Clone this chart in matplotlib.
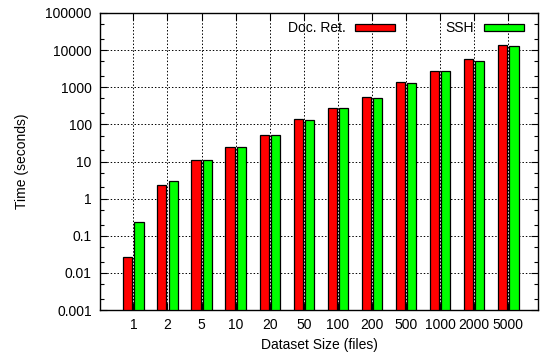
import numpy as np
import matplotlib
matplotlib.use("Agg")
import matplotlib.pyplot as plt
from matplotlib.ticker import LogLocator, FixedLocator, NullFormatter

# dataset sizes (files) and run times (seconds)
sizes = ["1", "2", "5", "10", "20", "50", "100", "200", "500", "1000", "2000", "5000"]
doc_ret = [0.026, 2.35, 10.8, 25, 53, 140, 275, 560, 1400, 2800, 5700, 13900]
ssh = [0.23, 2.9, 10.8, 24, 51, 131, 268, 520, 1340, 2700, 5150, 13300]

plt.rcParams["font.family"] = ["Liberation Sans", "DejaVu Sans"]
plt.rcParams["font.size"] = 10

fig = plt.figure(figsize=(5.4, 3.53), dpi=100)
ax = fig.add_axes([100 / 540, 1 - 310 / 353, 438 / 540, 297 / 353])

x = np.arange(len(sizes))
w = 0.27
off = 0.165
ax.bar(x - off, doc_ret, w, bottom=0.001, color="#ff0000", edgecolor="black",
       linewidth=0.9, label="Doc. Ret.", zorder=3)
ax.bar(x + off, ssh, w, bottom=0.001, color="#00ff00", edgecolor="black",
       linewidth=0.9, label="SSH", zorder=3)

ax.set_yscale("log")
ax.set_ylim(0.001, 100000)
ax.set_xlim(-0.98, 11.87)
ax.yaxis.set_major_locator(FixedLocator([10.0 ** k for k in range(-3, 6)]))
ax.set_yticklabels(["0.001", "0.01", "0.1", "1", "10", "100", "1000", "10000", "100000"])
ax.yaxis.set_minor_locator(LogLocator(base=10, subs=[2.0, 5.0], numticks=20))
ax.yaxis.set_minor_formatter(NullFormatter())
ax.set_xticks(x)
ax.set_xticklabels(sizes)

ax.tick_params(which="major", direction="in", length=5, width=0.8,
               top=True, right=True, pad=6)
ax.tick_params(which="minor", direction="in", length=3, width=0.8,
               top=False, right=True)
ax.tick_params(axis="x", which="minor", bottom=False, top=False)
for s in ax.spines.values():
    s.set_linewidth(1.0)

ax.grid(True, which="major", color="black", linestyle=(0, (1.5, 2)),
        linewidth=0.7, zorder=0)
ax.set_axisbelow(True)

ax.set_xlabel("Dataset Size (files)", labelpad=4)
ax.set_ylabel("Time (seconds)", labelpad=12)

ax.legend(loc="upper right", ncol=2, frameon=False, markerfirst=False,
          handlelength=2.9, handleheight=0.45, columnspacing=3.6,
          handletextpad=0.7, bbox_to_anchor=(0.99, 1.005), borderaxespad=0.3)

fig.savefig("out.png", dpi=100)
